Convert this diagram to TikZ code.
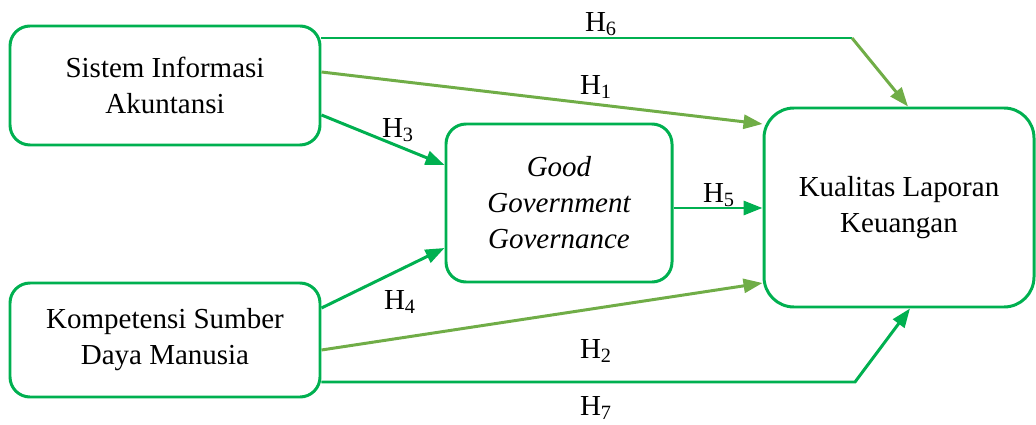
\documentclass[tikz,border=0pt]{standalone}
\usepackage{fontspec}
\setmainfont{Liberation Serif}
\usepackage{tikz}
\usetikzlibrary{arrows.meta}
\definecolor{boxgreen}{HTML}{00B050}
\definecolor{leafgreen}{HTML}{70AD47}
\tikzstyle{var} = [rectangle, rounded corners=0.4cm, draw=boxgreen, line width=1.7pt, text centered,
,align=center, inner sep=0.5ex, font=\fontsize{16.5}{20.5}\selectfont]
\tikzstyle{hyp} = [line width=1.7pt, draw=boxgreen, -{Triangle[length=3.8mm,width=2.8mm]}]
\tikzstyle{hlabel} = [font=\fontsize{16.5}{20.5}\selectfont, inner sep=0pt]

\begin{document}
\begin{tikzpicture}
                        \useasboundingbox (0,0) rectangle (20.72,8.48);
                        % variables
                        \node[var,minimum width=6.2cm,minimum height=2.38cm] (sia)
                            at (3.30,6.77) {Sistem Informasi\\ Akuntansi};
                        \node[var,minimum width=6.2cm,minimum height=2.28cm] (ksdm)
                            at (3.30,1.68) {Kompetensi Sumber\\ Daya Manusia};
                        \node[var,minimum width=4.52cm,minimum height=3.16cm] (ggg)
                            at (11.18,4.42) {\itshape Good\\ \itshape Government\\ \itshape Governance};
                        \node[var,rounded corners=0.6cm,minimum width=5.4cm,minimum height=3.98cm] (klk)
                            at (17.98,4.33) {Kualitas Laporan\\ Keuangan};
                        \coordinate (bend6) at (17.04,7.72);
                        \coordinate (bend7) at (17.10,0.84);
                        % hypotheses
                        \draw[boxgreen,line width=1.7pt] ([yshift=0.95cm]sia.east) -- (bend6);
                        \draw[hyp,draw=leafgreen] (bend6) -- ([xshift=0.18cm]klk.north);
                        \draw[hyp,draw=leafgreen] ([yshift=0.27cm]sia.east) -- ([yshift=1.67cm]klk.west);
                        \draw[hyp] ([yshift=-0.59cm]sia.east) -- ([yshift=0.76cm]ggg.west);
                        \draw[hyp] ([yshift=-0.1cm]ggg.east) -- ([yshift=-0.1cm]ggg.east -| klk.west);
                        \draw[hyp] ([yshift=0.64cm]ksdm.east) -- ([yshift=-0.9cm]ggg.west);
                        \draw[hyp,draw=leafgreen] ([yshift=-0.2cm]ksdm.east) -- ([yshift=-1.51cm]klk.west);
                        \draw[hyp] ([yshift=-0.84cm]ksdm.east) -- (bend7) -- ([xshift=0.22cm]klk.south);
                        % labels
                        \node[hlabel] (h6) at (12.02,8.00) {H\textsubscript{6}};
                        \node[hlabel] (h1) at (11.92,6.74) {H\textsubscript{1}};
                        \node[hlabel] (h3) at (7.96,5.88) {H\textsubscript{3}};
                        \node[hlabel] (h5) at (14.38,4.58) {H\textsubscript{5}};
                        \node[hlabel] (h4) at (8.00,2.44) {H\textsubscript{4}};
                        \node[hlabel] (h2) at (11.92,1.46) {H\textsubscript{2}};
                        \node[hlabel] (h7) at (11.92,0.32) {H\textsubscript{7}};
                    \end{tikzpicture}
\end{document}
